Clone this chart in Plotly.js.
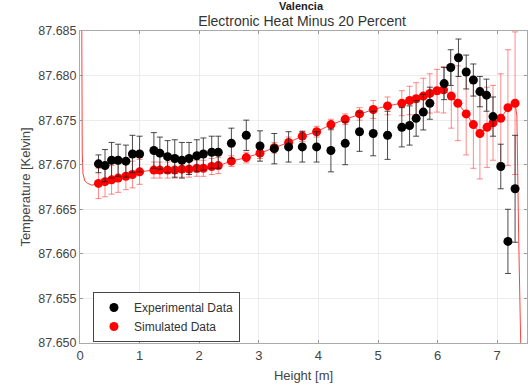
<!DOCTYPE html>
<html>
<head>
<meta charset="utf-8">
<script src="https://cdn.plot.ly/plotly-3.0.1.min.js"></script>
<style>html,body{margin:0;padding:0;background:#fff;}#chart{width:528px;height:390px;}</style>
</head>
<body>
<div id="chart"></div>
<script>
// Experimental data
var expX = [0.31,0.42,0.53,0.64,0.77,0.88,1.00,1.24,1.34,1.47,1.59,1.71,1.83,1.96,2.07,2.21,2.32,2.54,2.79,3.02,3.26,3.50,3.73,3.97,4.21,4.45,4.69,4.92,5.16,5.40,5.53,5.64,5.76,5.87,6.11,6.22,6.35,6.48,6.60,6.71,6.82,6.93,7.06,7.18,7.30];
var expY = [87.6701,87.6699,87.6705,87.6705,87.6704,87.6712,87.6712,87.6716,87.6713,87.6709,87.6707,87.6705,87.6707,87.6710,87.6712,87.6714,87.6714,87.6724,87.6733,87.6721,87.6718,87.6720,87.6720,87.6720,87.6716,87.6724,87.6737,87.6735,87.6733,87.6742,87.6744,87.6752,87.6759,87.6769,87.6791,87.6809,87.6820,87.6804,87.6795,87.6782,87.6778,87.6754,87.6698,87.6614,87.6673];
var expErr = [0.0010,0.0018,0.0020,0.0018,0.0018,0.0021,0.0020,0.0020,0.0018,0.0018,0.0021,0.0020,0.0018,0.0018,0.0018,0.0018,0.0018,0.0017,0.0017,0.0017,0.0017,0.0017,0.0017,0.0017,0.0024,0.0024,0.0022,0.0025,0.0027,0.0022,0.0022,0.0020,0.0020,0.0018,0.0018,0.0020,0.0021,0.0019,0.0018,0.0017,0.0018,0.0022,0.0025,0.0036,0.0060];

// Simulated data
var simX = [0.31,0.42,0.53,0.64,0.77,0.88,1.00,1.24,1.34,1.47,1.59,1.71,1.83,1.96,2.07,2.21,2.32,2.54,2.79,3.02,3.26,3.50,3.73,3.97,4.21,4.45,4.69,4.92,5.16,5.40,5.53,5.64,5.76,5.87,5.99,6.10,6.23,6.34,6.48,6.60,6.71,6.83,6.93,7.06,7.18,7.30];
var simY = [87.6679,87.6681,87.6683,87.6685,87.6687,87.6689,87.6692,87.6694,87.6694,87.6694,87.6694,87.6695,87.6695,87.6696,87.6696,87.6698,87.6699,87.6704,87.6708,87.6713,87.6719,87.6725,87.6732,87.6737,87.6745,87.6751,87.6757,87.6762,87.6766,87.6769,87.6772,87.6774,87.6777,87.6780,87.6783,87.6784,87.6777,87.6769,87.6757,87.6745,87.6735,87.6742,87.6747,87.6752,87.6764,87.6769];
var simErr = [0.0017,0.0017,0.0016,0.0016,0.0015,0.0015,0.0014,0.0009,0.0009,0.0009,0.0009,0.0009,0.0009,0.0009,0.0009,0.0009,0.0009,0.0006,0.0006,0.0006,0.0006,0.0006,0.0006,0.0006,0.0006,0.0006,0.0007,0.0010,0.0010,0.0014,0.0016,0.0018,0.0020,0.0022,0.0024,0.0026,0.0036,0.0042,0.0046,0.0049,0.0051,0.0045,0.0042,0.0050,0.0065,0.0080];

// Continuous model curve ends (beyond the sampled points)
var headX = [0.028,0.032,0.038,0.05,0.08,0.13,0.20];
var headY = [87.688,87.678,87.6713,87.6690,87.6682,87.6679,87.6677];
var tailX = [7.33,7.36,7.40];
var tailY = [87.6755,87.6620,87.6480];

var xTicks = [0,1,2,3,4,5,6,7];
var yTicks = [87.650,87.655,87.660,87.665,87.670,87.675,87.680,87.685];

var FONT = 'Liberation Sans, Arial, sans-serif';

var traces = [
  {
    x: headX.concat(simX, tailX),
    y: headY.concat(simY, tailY),
    mode: 'lines',
    line: {color: 'rgba(255,0,0,0.75)', width: 1},
    showlegend: false,
    hoverinfo: 'skip'
  },
  {
    x: simX, y: simY,
    mode: 'markers',
    name: 'Simulated Data',
    marker: {color: '#ff0000', size: 9},
    error_y: {type: 'data', array: simErr, visible: true, color: 'rgba(255,40,40,0.55)', thickness: 1, width: 3}
  },
  {
    x: expX, y: expY,
    mode: 'markers',
    name: 'Experimental Data',
    marker: {color: '#000000', size: 9},
    error_y: {type: 'data', array: expErr, visible: true, color: 'rgba(30,30,30,0.8)', thickness: 1, width: 3}
  }
];

var layout = {
  width: 528, height: 390,
  margin: {l: 80, r: 1, t: 31, b: 47},
  paper_bgcolor: '#fff', plot_bgcolor: '#fff',
  font: {family: FONT, color: '#444', size: 12},
  title: {
    text: 'Electronic Heat Minus 20 Percent',
    font: {family: FONT, size: 14, color: '#333'},
    x: 0.572, xanchor: 'center',
    y: 1 - 21/390, yanchor: 'middle', yref: 'container'
  },
  annotations: [{
    text: '<b>Valencia</b>', xref: 'paper', yref: 'paper',
    x: 0.496, y: (343 - 6) / 312, xanchor: 'center', yanchor: 'middle',
    showarrow: false, font: {family: FONT, size: 11, color: '#222'}
  }],
  xaxis: {
    range: [0, 7.5],
    tickvals: xTicks,
    ticks: 'inside', ticklen: 3, tickcolor: '#999',
    showline: true, linecolor: '#aaa', linewidth: 1, mirror: 'ticks',
    showgrid: true, gridcolor: '#ececec',
    zeroline: false,
    tickfont: {family: FONT, size: 13, color: '#444'},
    title: {text: 'Height [m]', font: {family: FONT, size: 13, color: '#444'}, standoff: 9}
  },
  yaxis: {
    range: [87.650, 87.685],
    tickvals: yTicks,
    tickformat: '.3f',
    ticks: 'inside', ticklen: 3, tickcolor: '#999',
    showline: true, linecolor: '#aaa', linewidth: 1, mirror: 'ticks',
    showgrid: true, gridcolor: '#ececec',
    zeroline: false,
    tickfont: {family: FONT, size: 12.5, color: '#444'},
    title: {text: 'Temperature [Kelvin]', font: {family: FONT, size: 13, color: '#444'}, standoff: 4}
  },
  legend: {
    x: 0.029, y: (343 - 292) / 312, xanchor: 'left', yanchor: 'top',
    bgcolor: '#fff', bordercolor: '#444', borderwidth: 1,
    font: {family: FONT, size: 12, color: '#333'},
    traceorder: 'reversed', tracegroupgap: 0
  },
  showlegend: true
};

Plotly.newPlot('chart', traces, layout, {displayModeBar: false, staticPlot: true});
</script>
</body>
</html>
